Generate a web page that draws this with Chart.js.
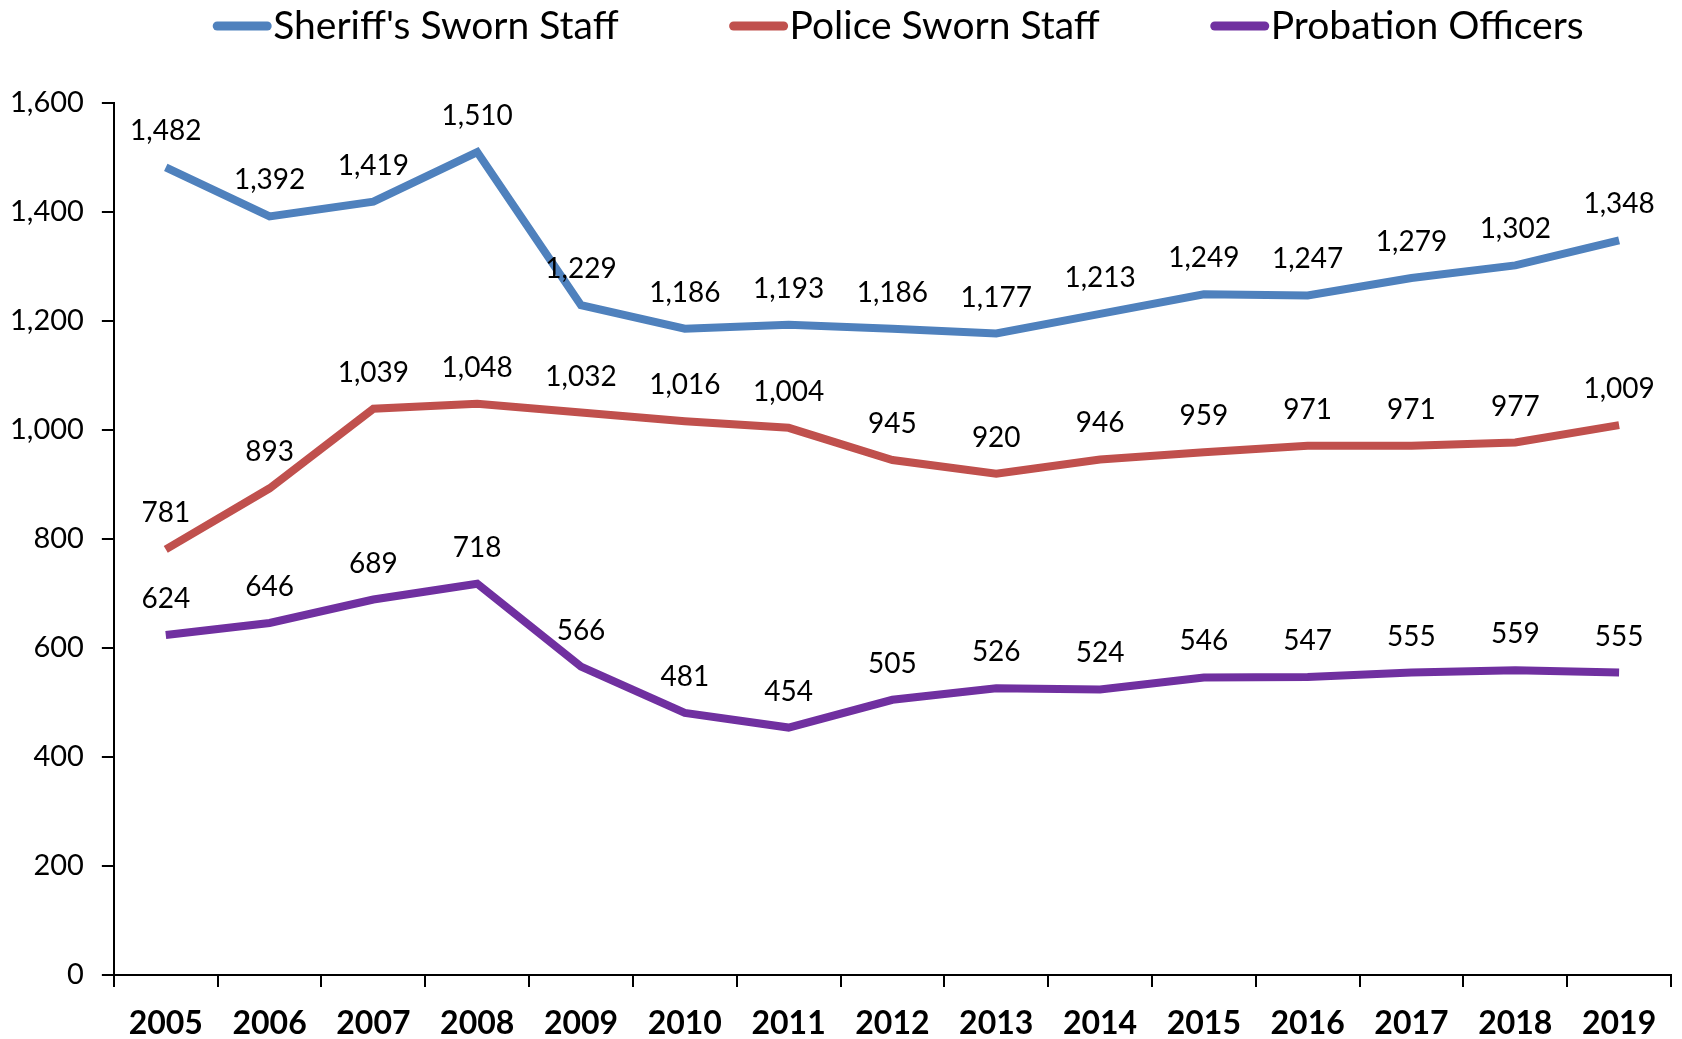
<!DOCTYPE html>
<html>
<head>
<meta charset="utf-8">
<script src="https://cdn.jsdelivr.net/npm/chart.js@4.4.0/dist/chart.umd.min.js"></script>
<style>
  html, body { margin: 0; padding: 0; background: #fff; }
  #wrap { width: 1682px; height: 1039px; }
</style>
</head>
<body>
<div id="wrap"><canvas id="grafico"></canvas></div>
<script>
// ---------------------
// Dados
// ---------------------
const anos = ['2005', '2006', '2007', '2008', '2009', '2010', '2011', '2012', '2013', '2014', '2015', '2016', '2017', '2018', '2019'];
const sheriff = [1482, 1392, 1419, 1510, 1229, 1186, 1193, 1186, 1177, 1213, 1249, 1247, 1279, 1302, 1348];
const policia = [781, 893, 1039, 1048, 1032, 1016, 1004, 945, 920, 946, 959, 971, 971, 977, 1009];
const probation = [624, 646, 689, 718, 566, 481, 454, 505, 526, 524, 546, 547, 555, 559, 555];
const yTicks = [0, 200, 400, 600, 800, 1000, 1200, 1400, 1600];

const fmt = v => Number(v).toLocaleString('en-US');

// ---------------------
// Rótulos de dados
// ---------------------
const rotulos = {
    id: 'rotulos',
    afterDatasetsDraw(chart) {
        const ctx = chart.ctx;
        ctx.save();
        ctx.font = '28px Lato';
        ctx.fillStyle = '#000';
        ctx.textAlign = 'center';
        ctx.textBaseline = 'middle';
        chart.data.datasets.forEach((ds, i) => {
            chart.getDatasetMeta(i).data.forEach((pt, j) => {
                ctx.fillText(fmt(ds.data[j]), pt.x, pt.y - 36);
            });
        });
        ctx.restore();
    }
};

// ---------------------
// Legenda (linha + texto colado)
// ---------------------
const legenda = {
    id: 'legenda',
    afterDraw(chart) {
        const ctx = chart.ctx;
        const area = chart.chartArea;
        const linha = 58, gap = 111, y = 26;
        ctx.save();
        ctx.font = '39px Lato';
        ctx.textBaseline = 'middle';
        const itens = chart.data.datasets.map(ds => ({
            ds, w: linha + 2 + ctx.measureText(ds.label).width
        }));
        const total = itens.reduce((s, it) => s + it.w, 0) + gap * (itens.length - 1);
        let x = (area.left + area.right) / 2 + 6 - total / 2;
        itens.forEach(it => {
            ctx.strokeStyle = it.ds.borderColor;
            ctx.lineWidth = 9;
            ctx.lineCap = 'round';
            ctx.beginPath();
            ctx.moveTo(x + 4, y);
            ctx.lineTo(x + linha - 4, y);
            ctx.stroke();
            ctx.fillStyle = '#000';
            ctx.fillText(it.ds.label, x + linha + 2, y);
            x += it.w + gap;
        });
        ctx.restore();
    }
};

const serie = (label, data, cor) => ({
    label,
    data,
    borderColor: cor,
    backgroundColor: cor,
    borderWidth: 8,
    pointRadius: 0,
    tension: 0,
    fill: false
});

new Chart(document.getElementById('grafico'), {
    type: 'line',
    data: {
        labels: anos,
        datasets: [
            serie("Sheriff's Sworn Staff", sheriff, '#4F81BD'),
            serie('Police Sworn Staff', policia, '#C0504D'),
            serie('Probation Officers', probation, '#7030A0')
        ]
    },
    options: {
        responsive: true,
        maintainAspectRatio: false,
        animation: false,
        layout: { padding: { left: -8, right: 11, top: 103, bottom: -22 } },
        plugins: {
            tooltip: { enabled: false },
            legend: { display: false }
        },
        scales: {
            x: {
                offset: true,
                border: { color: '#000', width: 2 },
                grid: { offset: true, drawOnChartArea: false, drawTicks: true, tickLength: 12, color: '#000', lineWidth: 2 },
                ticks: {
                    color: '#000',
                    padding: 21,
                    maxRotation: 0,
                    font: { family: 'Lato', size: 32, weight: 'bold', lineHeight: 1 }
                }
            },
            y: {
                min: 0,
                max: 1600,
                afterBuildTicks: axis => { axis.ticks = yTicks.map(v => ({ value: v })); },
                border: { color: '#000', width: 2 },
                grid: { drawOnChartArea: false, drawTicks: true, tickLength: 12, color: '#000', lineWidth: 2 },
                ticks: {
                    color: '#000',
                    padding: 18,
                    callback: v => fmt(v),
                    font: { family: 'Lato', size: 29 }
                }
            }
        }
    },
    plugins: [rotulos, legenda]
});
</script>
</body>
</html>
